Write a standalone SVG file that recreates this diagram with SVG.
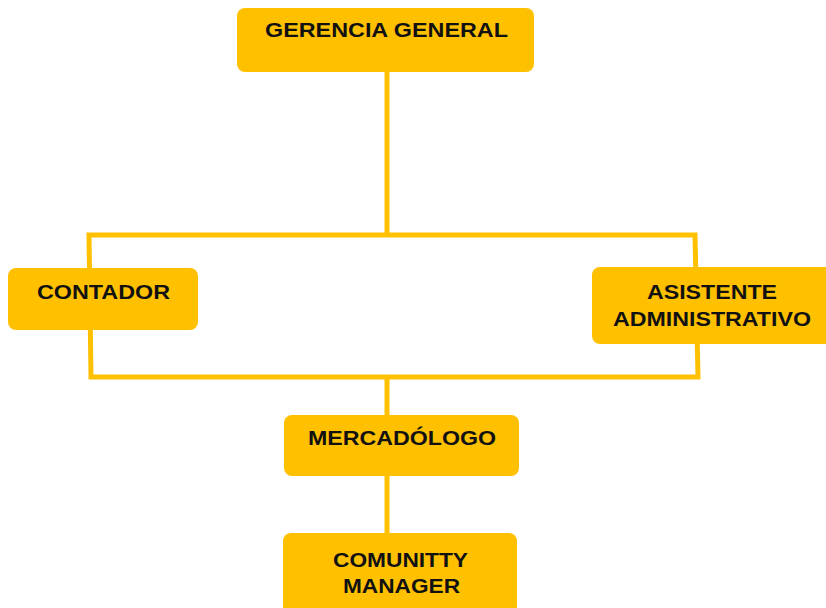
<svg xmlns="http://www.w3.org/2000/svg" width="826" height="608" viewBox="0 0 826 608">
<style>
.box{fill:#FFC000;}
.lbl{font-family:"Liberation Sans",Arial,sans-serif;font-weight:bold;font-size:20px;fill:#111;text-anchor:middle;}
.ln{fill:none;stroke:#FFC000;stroke-width:5;}
</style>
<rect width="826" height="608" fill="#fff"/>
<g id="connectors">
<path class="ln" d="M387 72 L387 235"/>
<path class="ln" d="M89 235 L695 235 L698 377 L91 377 Z"/>
<path class="ln" d="M387 377 L387 415"/>
<path class="ln" d="M387 476 L387 533"/>
</g>
<g id="gerencia">
<rect class="box" x="237" y="8" width="297" height="64" rx="8"/>
<text class="lbl" x="386.5" y="37" textLength="243" lengthAdjust="spacingAndGlyphs">GERENCIA GENERAL</text>
</g>
<g id="contador">
<rect class="box" x="8" y="268" width="190" height="62" rx="8"/>
<text class="lbl" x="103.5" y="299" textLength="133" lengthAdjust="spacingAndGlyphs">CONTADOR</text>
</g>
<g id="asistente">
<rect class="box" x="592" y="267" width="244" height="77" rx="8"/>
<text class="lbl" x="712" y="299" textLength="130" lengthAdjust="spacingAndGlyphs">ASISTENTE</text>
<text class="lbl" x="712" y="326" textLength="198" lengthAdjust="spacingAndGlyphs">ADMINISTRATIVO</text>
</g>
<g id="mercadologo">
<rect class="box" x="284" y="415" width="235" height="61" rx="8"/>
<text class="lbl" x="402" y="445" textLength="188" lengthAdjust="spacingAndGlyphs">MERCADÓLOGO</text>
</g>
<g id="community">
<rect class="box" x="283" y="533" width="234" height="85" rx="8"/>
<text class="lbl" x="400.5" y="567" textLength="135" lengthAdjust="spacingAndGlyphs">COMUNITTY</text>
<text class="lbl" x="401.5" y="593" textLength="117" lengthAdjust="spacingAndGlyphs">MANAGER</text>
</g>
</svg>
